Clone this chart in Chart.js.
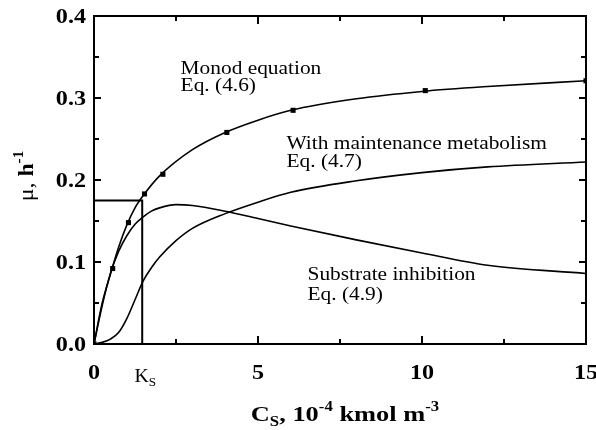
<!DOCTYPE html>
<html>
<head>
<meta charset="utf-8">
<script src="https://cdn.jsdelivr.net/npm/chart.js@4.4.0/dist/chart.umd.min.js"></script>
<style>
html, body { margin: 0; padding: 0; background: #fff; }
#wrap { width: 596px; height: 430px; }
</style>
</head>
<body>
<div id="wrap"><canvas id="c"></canvas></div>
<script>
// values (Cs in 1e-4 kmol/m3, mu in 1/h)
var monodX = [0, 0.25, 0.5, 0.75, 1, 1.25, 1.5, 2, 3, 4, 5, 6, 8, 10, 12, 15];
var monodY = [0, 0.05, 0.085, 0.118, 0.145, 0.166, 0.181, 0.205, 0.237, 0.258, 0.273, 0.285, 0.299, 0.308, 0.314, 0.321];

var markX = [0, 0.57, 1.05, 1.54, 2.1, 4.05, 6.07, 10.1, 15];
var markY = [0, 0.092, 0.148, 0.183, 0.207, 0.258, 0.285, 0.309, 0.321];

var maintX = [0, 0.25, 0.5, 0.75, 1, 1.25, 1.5, 1.75, 2, 2.5, 3, 4, 5, 6, 8, 10, 12, 15];
var maintY = [0, 0.002, 0.006, 0.014, 0.031, 0.054, 0.077, 0.093, 0.106, 0.126, 0.141, 0.159, 0.173, 0.185, 0.199, 0.209, 0.216, 0.222];

var inhibX = [0, 0.25, 0.5, 0.75, 1, 1.25, 1.5, 1.75, 2, 2.5, 3, 4, 5, 6, 8, 10, 12, 15];
var inhibY = [0, 0.047, 0.086, 0.113, 0.132, 0.146, 0.155, 0.162, 0.166, 0.17, 0.169, 0.162, 0.153, 0.144, 0.127, 0.111, 0.096, 0.086];

var KS = 1.47;
var HALF_MU = 0.175;

var xMajor = [0, 5, 10, 15];
var xMinor = [2.5, 7.5, 12.5];
var yMajor = [0, 0.1, 0.2, 0.3, 0.4];
var yMinor = [0.05, 0.15, 0.25, 0.35];

var noteText = ['Monod equation', 'Eq. (4.6)', 'With maintenance metabolism', 'Eq. (4.7)', 'Substrate inhibition', 'Eq. (4.9)'];
var noteX = [2.64, 2.64, 5.87, 5.87, 6.51, 6.51];
var noteY = [0.329, 0.308, 0.2375, 0.2155, 0.078, 0.0537];

function pts(xs, ys) {
	var a = [];
	for (var i = 0; i < xs.length; i++) a.push({x: xs[i], y: ys[i]});
	return a;
}

var SERIF = '"Liberation Serif", "Times New Roman", serif';

function drawRuns(ctx, parts, x, y, align, sx) {
	var w = 0;
	for (var i = 0; i < parts.length; i++) {
		ctx.font = parts[i][1];
		w += ctx.measureText(parts[i][0]).width;
	}
	var cx = align == 'center' ? -w / 2 : (align == 'right' ? -w : 0);
	ctx.save();
	ctx.translate(x, y);
	ctx.scale(sx, 1);
	ctx.textAlign = 'left';
	ctx.textBaseline = 'alphabetic';
	ctx.fillStyle = '#000';
	for (var j = 0; j < parts.length; j++) {
		ctx.font = parts[j][1];
		ctx.fillText(parts[j][0], cx, parts[j][2] || 0);
		cx += ctx.measureText(parts[j][0]).width;
	}
	ctx.restore();
}

var frame = {
	id: 'frame',
	afterDraw: function(chart) {
		var ctx = chart.ctx, a = chart.chartArea;
		var xs = chart.scales.x, ys = chart.scales.y;
		ctx.save();
		ctx.strokeStyle = '#000';
		ctx.lineWidth = 2;
		ctx.strokeRect(a.left, a.top, a.right - a.left, a.bottom - a.top);

		// inward ticks on all four sides
		ctx.beginPath();
		function xt(v, len) {
			var p = xs.getPixelForValue(v);
			ctx.moveTo(p, a.bottom); ctx.lineTo(p, a.bottom - len);
			ctx.moveTo(p, a.top); ctx.lineTo(p, a.top + len);
		}
		function yt(v, len) {
			var p = ys.getPixelForValue(v);
			ctx.moveTo(a.left, p); ctx.lineTo(a.left + len, p);
			ctx.moveTo(a.right, p); ctx.lineTo(a.right - len, p);
		}
		xMajor.forEach(function(v){ xt(v, 8); });
		xMinor.forEach(function(v){ xt(v, 5); });
		yMajor.forEach(function(v){ yt(v, 7); });
		yMinor.forEach(function(v){ yt(v, 5); });
		ctx.stroke();

		var tickFont = 'bold 21px ' + SERIF;
		xMajor.forEach(function(v){
			drawRuns(ctx, [[String(v), tickFont]], xs.getPixelForValue(v), 379, 'center', 1.15);
		});
		yMajor.forEach(function(v){
			drawRuns(ctx, [[v.toFixed(1), tickFont]], a.left - 8, ys.getPixelForValue(v) + 7, 'right', 1.15);
		});

		// Ks marker label
		drawRuns(ctx, [['K', '18px ' + SERIF], ['S', '12px ' + SERIF, 4]],
			xs.getPixelForValue(KS) + 3, 382, 'center', 1.1);

		// curve notes
		for (var i = 0; i < noteText.length; i++) {
			drawRuns(ctx, [[noteText[i], '19px ' + SERIF]],
				xs.getPixelForValue(noteX[i]), ys.getPixelForValue(noteY[i]), 'left', 1.125);
		}

		// axis titles
		var b = 'bold 22px ' + SERIF, s = 'bold 14px ' + SERIF;
		drawRuns(ctx, [['C', b], ['S', s, 5], [', 10', b], ['-4', s, -10], [' kmol m', b], ['-3', s, -10]],
			345, 421, 'center', 1.2);

		ctx.save();
		ctx.translate(33, 176);
		ctx.rotate(-Math.PI / 2);
		drawRuns(ctx, [['\u03bc, ', '22px ' + SERIF], ['h', 'bold 22px ' + SERIF], ['-1', s, -10]], 0, 0, 'center', 1.08);
		ctx.restore();

		ctx.restore();
	}
};

var line = function(data, w) {
	return {
		type: 'line', data: data, borderColor: '#000', borderWidth: w,
		pointRadius: 0, fill: false, cubicInterpolationMode: 'monotone'
	};
};

var c = new Chart(document.getElementById('c'), {
	type: 'scatter',
	data: {
		datasets: [
			line(pts(monodX, monodY), 1.6),
			line(pts(maintX, maintY), 1.6),
			line(pts(inhibX, inhibY), 1.6),
			{
				type: 'line', data: [{x: 0, y: HALF_MU}, {x: KS, y: HALF_MU}, {x: KS, y: 0}],
				borderColor: '#000', borderWidth: 2, pointRadius: 0, fill: false, tension: 0
			},
			{
				type: 'scatter', data: pts(markX, markY), pointStyle: 'rect',
				pointRadius: 3.6, backgroundColor: '#000', borderColor: '#000', borderWidth: 0
			}
		]
	},
	options: {
		responsive: true,
		maintainAspectRatio: false,
		animation: false,
		events: [],
		layout: { padding: { top: 16, right: 10, left: 0, bottom: 0 } },
		plugins: { legend: { display: false }, tooltip: { enabled: false } },
		scales: {
			x: {
				type: 'linear', min: 0, max: 15,
				grid: { display: false }, border: { display: false },
				ticks: { display: false },
				afterFit: function(s) { s.height = 86; }
			},
			y: {
				type: 'linear', min: 0, max: 0.4,
				grid: { display: false }, border: { display: false },
				ticks: { display: false },
				afterFit: function(s) { s.width = 94; }
			}
		}
	},
	plugins: [frame]
});
</script>
</body>
</html>
